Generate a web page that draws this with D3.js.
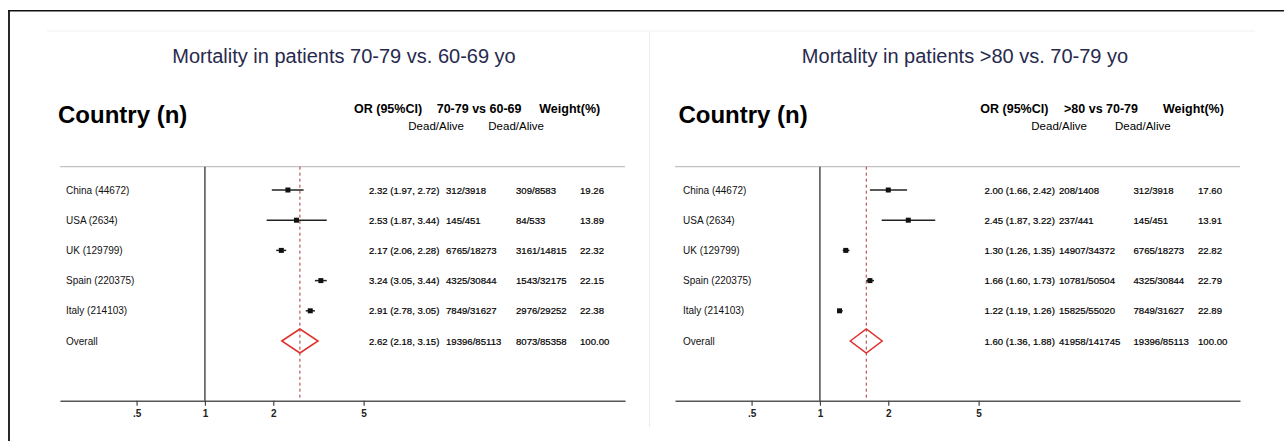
<!DOCTYPE html>
<html>
<head>
<meta charset="utf-8">
<script src="https://cdn.jsdelivr.net/npm/d3@7"></script>
<style>
  html, body { margin: 0; padding: 0; background: #fff; }
  svg { display: block; font-family: "Liberation Sans", Arial, Helvetica, sans-serif; }
</style>
</head>
<body>
<svg id="chart" width="1284" height="441"></svg>
<script>
// ---- data ----
const rowLabels = ["China (44672)", "USA (2634)", "UK (129799)", "Spain (220375)", "Italy (214103)", "Overall"];

// 70-79 vs 60-69
const orA = [2.32, 2.53, 2.17, 3.24, 2.91];
const loA = [1.97, 1.87, 2.06, 3.05, 2.78];
const hiA = [2.72, 3.44, 2.28, 3.44, 3.05];
const overallA = [2.62, 2.18, 3.15];
const countsA1 = ["312/3918", "145/451", "6765/18273", "4325/30844", "7849/31627", "19396/85113"];
const countsA2 = ["309/8583", "84/533", "3161/14815", "1543/32175", "2976/29252", "8073/85358"];
const weightA = ["19.26", "13.89", "22.32", "22.15", "22.38", "100.00"];

// >80 vs 70-79
const orB = [2.00, 2.45, 1.30, 1.66, 1.22];
const loB = [1.66, 1.87, 1.26, 1.60, 1.19];
const hiB = [2.42, 3.22, 1.35, 1.73, 1.26];
const overallB = [1.60, 1.36, 1.88];
const countsB1 = ["208/1408", "237/441", "14907/34372", "10781/50504", "15825/55020", "41958/141745"];
const countsB2 = ["312/3918", "145/451", "6765/18273", "4325/30844", "7849/31627", "19396/85113"];
const weightB = ["17.60", "13.91", "22.82", "22.79", "22.89", "100.00"];

const tickValues = [0.5, 1, 2, 5];
const tickLabels = [".5", "1", "2", "5"];
const axisDomain = [0.23, 70.8];

// ---- layout ----
const svg = d3.select("#chart");
const plotTop = 166.7, axisY = 400.7;
const fmt = d3.format(".2f");

// outer frame (top and left edges)
svg.append("line").attr("x1", 8).attr("x2", 1284).attr("y1", 10.8).attr("y2", 10.8)
  .attr("stroke", "#111").attr("stroke-width", 1.6);
svg.append("line").attr("x1", 9).attr("x2", 9).attr("y1", 10).attr("y2", 441)
  .attr("stroke", "#111").attr("stroke-width", 1.8);

// faint panel borders
svg.append("line").attr("x1", 47).attr("x2", 1255).attr("y1", 31).attr("y2", 31)
  .attr("stroke", "#eef1f3").attr("stroke-width", 1);
svg.append("line").attr("x1", 649.5).attr("x2", 649.5).attr("y1", 31).attr("y2", 427)
  .attr("stroke", "#e9eff1").attr("stroke-width", 1);

function drawPanel(p) {
  const g = svg.append("g");
  const x = d3.scaleLog().domain(axisDomain).range(p.range);
  const y = d3.scaleLinear().domain([0, rowLabels.length - 1]).range([190, 341]);

  // title
  g.append("text").attr("x", p.titleX).attr("y", 63).attr("text-anchor", "middle")
    .attr("font-size", 20).attr("fill", "#272a4e").text(p.title);

  // column headers
  g.append("text").attr("x", p.countryX).attr("y", 122.5).attr("font-size", 24)
    .attr("font-weight", "bold").attr("fill", "#000").text("Country (n)");
  p.head.forEach(h => {
    g.append("text").attr("x", h[0]).attr("y", 113).attr("font-size", 12.5)
      .attr("font-weight", "bold").attr("fill", "#000").text(h[1]);
  });
  p.sub.forEach(sx => {
    g.append("text").attr("x", sx).attr("y", 129.5).attr("font-size", 11.5)
      .attr("fill", "#000").text("Dead/Alive");
  });

  // top rule
  g.append("line").attr("x1", p.range[0]).attr("x2", p.range[1])
    .attr("y1", plotTop).attr("y2", plotTop).attr("stroke", "#c2c2c2").attr("stroke-width", 1.2);

  // axis
  const axis = d3.axisBottom(x).tickValues(tickValues)
    .tickFormat((d, i) => tickLabels[i]).tickSize(5).tickSizeOuter(0).tickPadding(4);
  const ag = g.append("g").attr("transform", `translate(0,${axisY})`).call(axis);
  ag.select(".domain").attr("stroke", "#555").attr("stroke-width", 1.6);
  ag.selectAll(".tick line").attr("stroke", "#444").attr("stroke-width", 1.2);
  ag.selectAll(".tick text").attr("font-size", 10).attr("font-weight", "bold")
    .attr("fill", "#222").attr("font-family", "Liberation Sans, Arial, sans-serif");

  // line of no effect
  g.append("line").attr("x1", x(1)).attr("x2", x(1)).attr("y1", plotTop).attr("y2", axisY)
    .attr("stroke", "#333").attr("stroke-width", 1.3);

  // pooled estimate reference line
  g.append("line").attr("x1", x(p.overall[0])).attr("x2", x(p.overall[0]))
    .attr("y1", plotTop).attr("y2", axisY)
    .attr("stroke", "#a8383a").attr("stroke-width", 1).attr("stroke-dasharray", "3,3");

  // row labels
  rowLabels.forEach((lab, i) => {
    g.append("text").attr("x", p.labelX).attr("y", y(i) + 3.6).attr("font-size", 10)
      .attr("fill", "#111").text(lab);
  });

  // confidence intervals and point estimates
  p.or.forEach((v, i) => {
    g.append("line").attr("x1", x(p.lo[i])).attr("x2", x(p.hi[i]))
      .attr("y1", y(i)).attr("y2", y(i)).attr("stroke", "#222").attr("stroke-width", 1.5);
    g.append("rect").attr("x", x(v) - 2.5).attr("y", y(i) - 2.5)
      .attr("width", 5).attr("height", 5).attr("fill", "#111");
  });

  // pooled diamond
  const yo = y(rowLabels.length - 1);
  const [om, ol, oh] = p.overall;
  g.append("path")
    .attr("d", d3.line()([[x(ol), yo], [x(om), yo - 12], [x(oh), yo], [x(om), yo + 12]]) + "Z")
    .attr("fill", "none").attr("stroke", "#e0302c").attr("stroke-width", 1.5);

  // text columns
  const orText = p.or.map((v, i) => `${fmt(v)} (${fmt(p.lo[i])}, ${fmt(p.hi[i])})`)
    .concat([`${fmt(om)} (${fmt(ol)}, ${fmt(oh)})`]);
  const cols = [[p.orX, orText], [p.c1X, p.c1], [p.c2X, p.c2], [p.wX, p.w]];
  cols.forEach(([cx, vals]) => {
    vals.forEach((t, i) => {
      g.append("text").attr("x", cx).attr("y", y(i) + 3.5).attr("font-size", 9.6)
        .attr("fill", "#000").attr("stroke", "#000").attr("stroke-width", 0.2).text(t);
    });
  });
}

drawPanel({
  title: "Mortality in patients 70-79 vs. 60-69 yo",
  titleX: 344, countryX: 58, labelX: 66,
  range: [60, 625],
  head: [[354, "OR (95%CI)"], [436.7, "70-79 vs 60-69"], [539.3, "Weight(%)"]],
  sub: [408.3, 488.3],
  orX: 369, c1X: 446, c2X: 516, wX: 580,
  or: orA, lo: loA, hi: hiA, overall: overallA,
  c1: countsA1, c2: countsA2, w: weightA
});

drawPanel({
  title: "Mortality in patients >80 vs. 70-79 yo",
  titleX: 965, countryX: 678.4, labelX: 683,
  range: [675, 1240],
  head: [[980.3, "OR (95%CI)"], [1064, ">80 vs 70-79"], [1163, "Weight(%)"]],
  sub: [1031.3, 1115],
  orX: 984.5, c1X: 1059, c2X: 1133.5, wX: 1198,
  or: orB, lo: loB, hi: hiB, overall: overallB,
  c1: countsB1, c2: countsB2, w: weightB
});
</script>
</body>
</html>
